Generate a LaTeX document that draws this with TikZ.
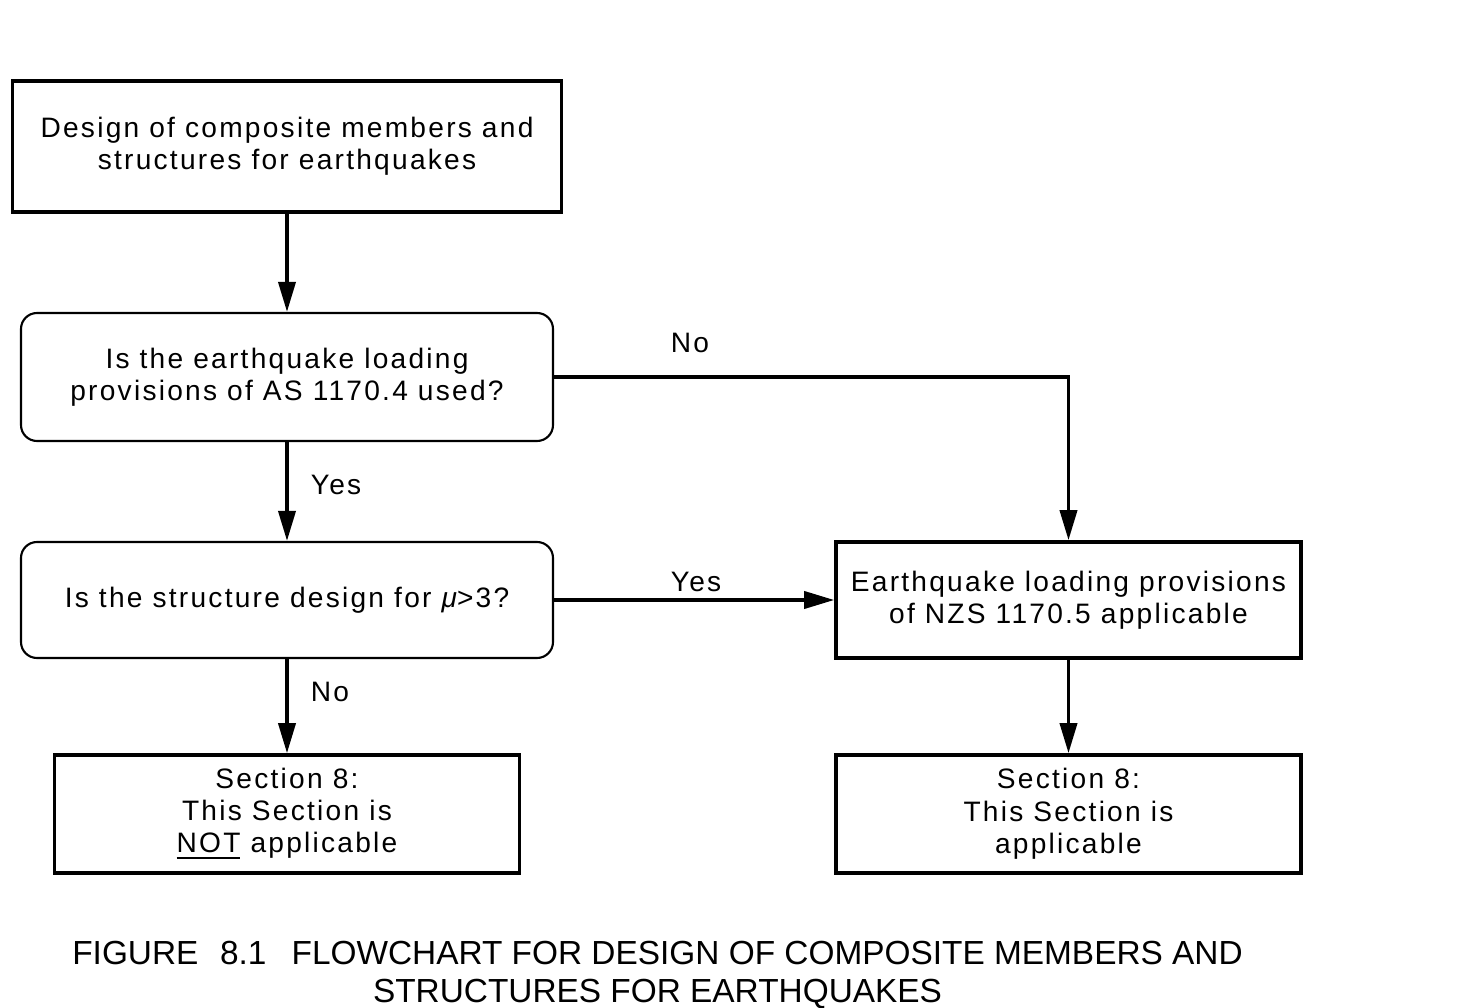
\documentclass[tikz,border=0pt]{standalone}
\usepackage{fontspec}
\setmainfont{Liberation Sans}
\newfontfamily\boxfont{Liberation Sans}[LetterSpace=8]
\usetikzlibrary{arrows.meta}
\tikzset{
  sqbox/.style={rectangle,draw=black,line width=1pt,inner sep=0pt,
                align=center,font=\boxfont\fontsize{8}{9.2}\selectfont},
  rndbox/.style={rectangle,rounded corners=1.6mm,draw=black,line width=0.6pt,
                inner sep=0pt,align=center,font=\boxfont\fontsize{8}{9.2}\selectfont},
  flow/.style={-{Triangle[length=3mm,width=1.7mm]},line width=1.05pt,draw=black},
  lbl/.style={font=\boxfont\fontsize{8}{9.2}\selectfont,inner sep=0pt},
}

\begin{document}
\begin{tikzpicture}
  \useasboundingbox (0,0) rectangle (14.6,-10.08);
  % left column
  \node[sqbox,minimum width=5.49cm,minimum height=1.31cm] (n1) at (2.87,-1.465)
    {Design of composite members and\\structures for earthquakes};
  \node[rndbox,minimum width=5.32cm,minimum height=1.28cm] (n2) at (2.87,-3.77)
    {Is the earthquake loading\\provisions of AS 1170.4 used?};
  \node[rndbox,minimum width=5.32cm,minimum height=1.16cm] (n3) at (2.87,-6.0)
    {Is the structure design for {\itshape μ}>3?};
  \node[sqbox,minimum width=4.65cm,minimum height=1.18cm] (n4) at (2.87,-8.14)
    {Section 8:\\This Section is\\\underline{NOT} applicable};
  % right column
  \node[sqbox,minimum width=4.65cm,minimum height=1.16cm] (n5) at (10.685,-6.0)
    {Earthquake loading provisions\\of NZS 1170.5 applicable};
  \node[sqbox,minimum width=4.65cm,minimum height=1.18cm] (n6) at (10.685,-8.14)
    {Section 8:\\This Section is\\applicable};

  \draw[flow] (n1) -- (n2);
  \draw[flow] (n2) -- (n3);
  \draw[flow] (n3) -- (n4);
  \draw[flow] (n2.east) -| (n5.north);
  \draw[flow] (n3.east) -- (n5.west);
  \draw[flow] (n5) -- (n6);

  \node[lbl] (yes1) at (3.36,-4.85) {Yes};
  \node[lbl] (no1)  at (3.30,-6.92) {No};
  \node[lbl] (no2)  at (6.90,-3.43) {No};
  \node[lbl] (yes2) at (6.96,-5.82) {Yes};

  \node[align=center,font=\fontsize{9.5}{10.6}\selectfont,inner sep=0pt] (cap) at (6.575,-9.75)
    {FIGURE\hspace{0.65em}8.1\hspace{0.75em}FLOWCHART FOR DESIGN OF COMPOSITE MEMBERS AND\\
     STRUCTURES FOR EARTHQUAKES};
\end{tikzpicture}
\end{document}
